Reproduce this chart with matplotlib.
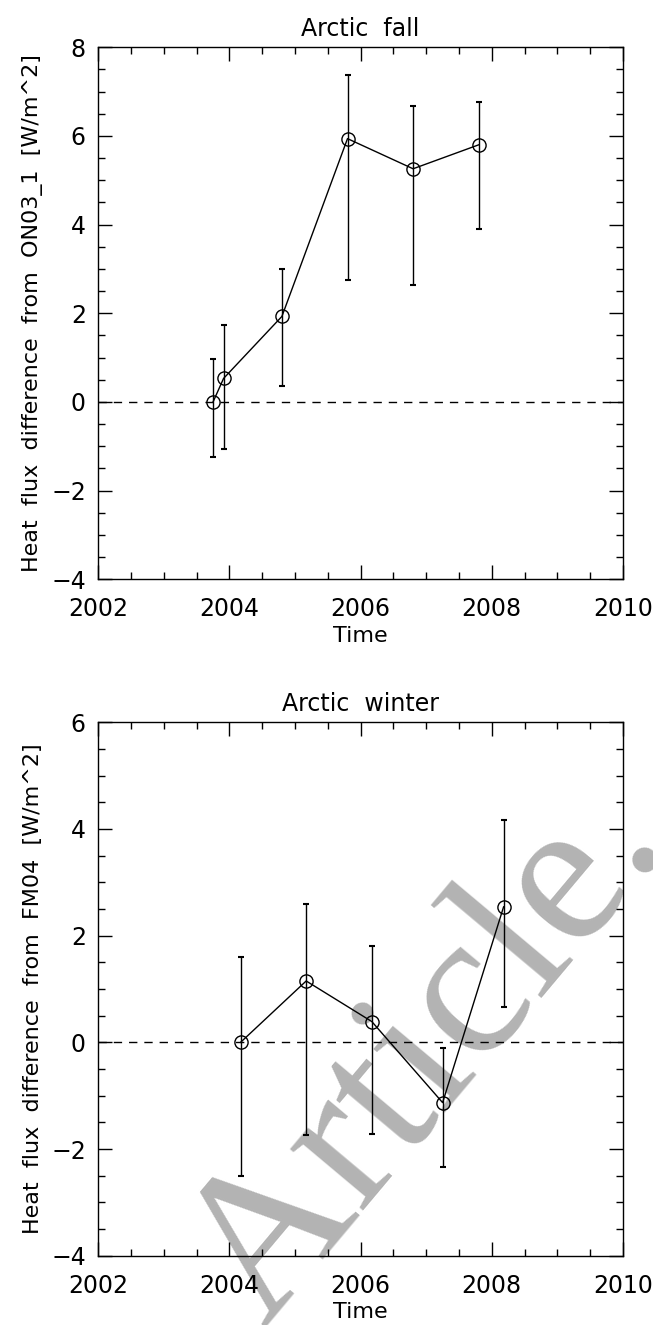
import numpy as np
import matplotlib
matplotlib.use("Agg")
import matplotlib.pyplot as plt
from matplotlib.ticker import MultipleLocator

# Arctic fall: difference from ON03_1
fall_time = [2003.75, 2003.91, 2004.80, 2005.80, 2006.80, 2007.80]
fall_flux = [0.0, 0.53, 1.93, 5.94, 5.26, 5.80]
fall_hi = [0.97, 1.73, 3.00, 7.38, 6.68, 6.77]
fall_lo = [-1.25, -1.07, 0.37, 2.76, 2.63, 3.90]

# Arctic winter: difference from FM04
winter_time = [2004.17, 2005.17, 2006.17, 2007.25, 2008.18]
winter_flux = [0.0, 1.15, 0.39, -1.13, 2.54]
winter_hi = [1.60, 2.59, 1.81, -0.11, 4.17]
winter_lo = [-2.51, -1.74, -1.71, -2.33, 0.67]

plt.rcParams['font.family'] = ['DejaVu Sans']
plt.rcParams['axes.linewidth'] = 1.0

fig = plt.figure(figsize=(6.53, 13.25), dpi=100)
ax1 = fig.add_axes([0.1505, 0.5628, 0.8035, 0.4015])
ax2 = fig.add_axes([0.1505, 0.0523, 0.8035, 0.4026])

def panel(ax, t, y, hi, lo, ylim, title, ylabel):
    t = np.array(t); y = np.array(y)
    err = [y - np.array(lo), np.array(hi) - y]
    ax.set_facecolor('none')
    ax.axhline(0, color='black', lw=1.0, ls=(0, (6, 5)), zorder=2)
    ax.errorbar(t, y, yerr=err, fmt='none', ecolor='black', elinewidth=1.0,
                capsize=2, capthick=1.5, zorder=3)
    ax.plot(t, y, color='black', lw=1.0, marker='o', ms=9.5, mfc='none',
            mec='black', mew=1.0, zorder=4)
    ax.set_xlim(2002, 2010)
    ax.set_ylim(*ylim)
    ax.xaxis.set_major_locator(MultipleLocator(2))
    ax.xaxis.set_minor_locator(MultipleLocator(0.5))
    ax.yaxis.set_major_locator(MultipleLocator(2))
    ax.yaxis.set_minor_locator(MultipleLocator(0.5))
    ax.tick_params(which='both', direction='in', top=True, right=True,
                   labelsize=17, width=1.0)
    ax.tick_params(which='major', length=10)
    ax.tick_params(axis='x', which='major', pad=13)
    ax.tick_params(axis='y', which='major', pad=9)
    ax.tick_params(which='minor', length=5)
    ax.set_title(title, fontsize=17, pad=8)
    ax.set_xlabel('Time', fontsize=16, labelpad=3)
    ax.set_ylabel(ylabel, fontsize=16, labelpad=6)

panel(ax1, fall_time, fall_flux, fall_hi, fall_lo, (-4, 8),
      'Arctic  fall', 'Heat  flux  difference  from  ON03_1  [W/m^2]')
panel(ax2, winter_time, winter_flux, winter_hi, winter_lo, (-4, 6),
      'Arctic  winter', 'Heat  flux  difference  from  FM04  [W/m^2]')

# grey watermark behind the lower panel
fig.text(0.655, 0.205, 'Article.', fontsize=150, color='#b3b3b3',
         family='Liberation Serif', rotation=50, ha='center', va='center',
         zorder=-1)

fig.savefig('out.png', dpi=100)
